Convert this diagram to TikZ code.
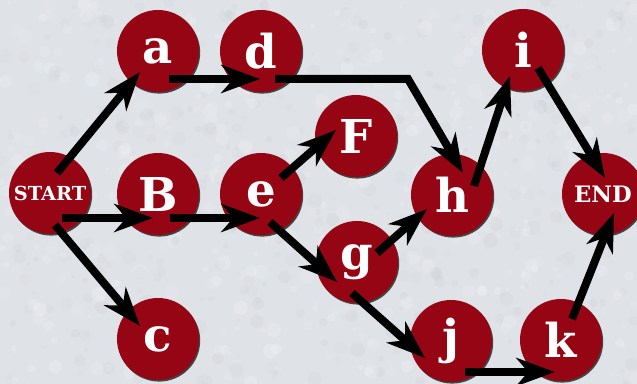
\documentclass[tikz,border=0pt]{standalone}
\usepackage{fontspec}
\usetikzlibrary{arrows.meta,shadows}
\setmainfont{DejaVu Serif}
\definecolor{bgc}{HTML}{DFE2E7}
\definecolor{disc}{HTML}{950514}
\tikzset{
  px/.style={x=0.75pt,y=-0.75pt},
  stone/.style={circle,minimum size=61.5pt,inner sep=0pt,fill=disc,text=white,
     font=\fontsize{35}{35}\bfseries,
     drop shadow={shadow xshift=0.9pt,shadow yshift=-1.2pt,fill=black!80,opacity=.9}},
  startlabel/.style={font=\fontsize{14.5}{15}\bfseries},
  endlabel/.style={font=\fontsize{17}{18}\bfseries},
  link/.style={line width=6pt,draw=black,-{Stealth[length=29pt,width=21pt,inset=9pt]}},
}
\begin{document}
\begin{tikzpicture}[px]
\useasboundingbox (0,0) rectangle (637,384);
\fill[bgc] (0,0) rectangle (637,384);
\pgfmathsetseed{42}
\begin{scope}
\clip (0,0) rectangle (637,384);
\foreach \i in {1,...,900}{
  \pgfmathsetmacro{\xx}{rnd*637}
  \pgfmathsetmacro{\yy}{rnd*384}
  \pgfmathsetmacro{\rr}{1.5+rnd*6}
  \pgfmathsetmacro{\oo}{0.06+rnd*0.14}
  \pgfmathtruncatemacro{\kk}{rnd<0.55 ? 1 : 0}
  \ifnum\kk=1
    \fill[white,opacity=\oo] (\xx,\yy) circle[radius=\rr*0.75pt];
  \else
    \fill[black!45,opacity=\oo*0.3] (\xx,\yy) circle[radius=\rr*0.75pt];
  \fi
}
\end{scope}
\node[stone,startlabel] (start) at (50,193) {START};
\node[stone] (a) at (158,51) {a};
\node[stone] (b) at (158,194) {B};
\node[stone] (c) at (158,339) {c};
\node[stone] (d) at (261,51) {d};
\node[stone] (e) at (261,194) {e};
\node[stone] (f) at (356,136) {F};
\node[stone] (g) at (357,262) {g};
\node[stone] (h) at (452,195) {h};
\node[stone] (i) at (523,50) {i};
\node[stone] (j) at (451,341) {j};
\node[stone] (k) at (561,340) {k};
\node[stone,endlabel] (end) at (603,194) {END};
\coordinate (sa) at (57,173); \coordinate (at) at (140,72);
\coordinate (ao) at (169,79); \coordinate (dt) at (260,79);
\coordinate (dO) at (275,79); \coordinate (dk) at (408,79); \coordinate (ht) at (463,173);
\coordinate (so) at (62,218); \coordinate (bt) at (153,218);
\coordinate (bo) at (170,218); \coordinate (et) at (260,218);
\coordinate (sc) at (55,225); \coordinate (ct) at (140,326);
\coordinate (ef) at (281,178); \coordinate (ft) at (336,130);
\coordinate (eg) at (270,222); \coordinate (gt) at (337,282);
\coordinate (gh) at (377,253); \coordinate (hg) at (427,209);
\coordinate (gj) at (352,293); \coordinate (jt) at (425,358);
\coordinate (jo) at (465,372); \coordinate (kt) at (555,372);
\coordinate (ko) at (572,319); \coordinate (en) at (614,213);
\coordinate (hi) at (474,186); \coordinate (it) at (510,76);
\coordinate (io) at (538,68); \coordinate (ne) at (605,178);
\draw[link] (sa) -- (at);
\draw[link] (ao) -- (dt);
\draw[link] (dO) -- (dk) -- (ht);
\draw[link] (so) -- (bt);
\draw[link] (bo) -- (et);
\draw[link] (sc) -- (ct);
\draw[link] (ef) -- (ft);
\draw[link] (eg) -- (gt);
\draw[link] (gh) -- (hg);
\draw[link] (gj) -- (jt);
\draw[link] (jo) -- (kt);
\draw[link] (ko) -- (en);
\draw[link] (hi) -- (it);
\draw[link] (io) -- (ne);
\end{tikzpicture}
\end{document}
